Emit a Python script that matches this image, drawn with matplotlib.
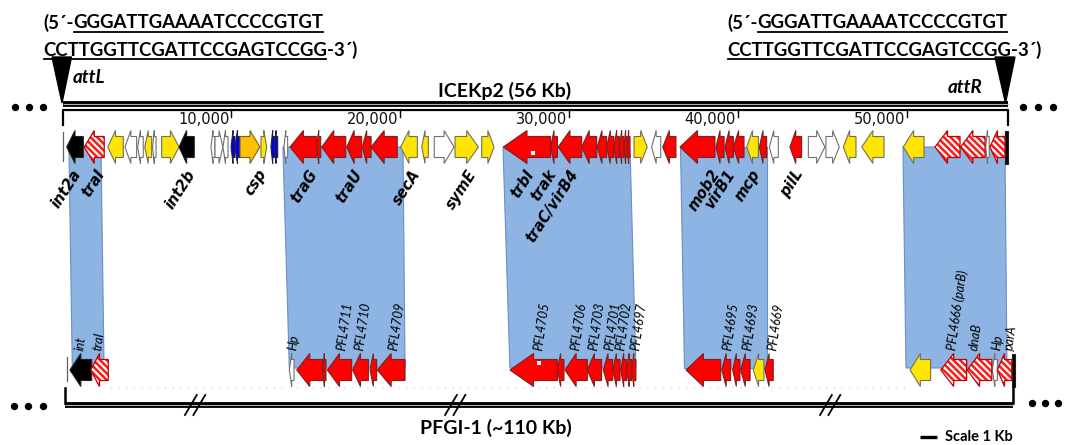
import matplotlib
matplotlib.use('Agg')
import matplotlib.pyplot as plt
from matplotlib.patches import Polygon

W, H = 1067, 445
X0 = 62.5          # pixel of position 0 kb
PPK = 16.89        # pixels per kb

def kb(px):
    return (px - X0) / PPK

# ---------------- DATA ----------------
# Top track (ICEKp2) genes: start/end (kb), strand, colour class
top_start = [0.25, 1.29, 2.68, 3.70, 4.45, 4.87, 5.33, 5.87, 6.90, 8.79, 9.03, 9.50, 9.98, 10.21,
             10.51, 11.75, 12.34, 12.55, 13.11, 13.47, 15.05, 15.35, 16.83, 17.75, 18.27, 20.02,
             21.27, 22.01, 23.24, 24.82, 26.10, 28.90, 29.35, 30.74, 31.66, 32.22, 32.65, 32.97,
             33.24, 33.44, 33.84, 34.88, 35.54, 36.56, 38.69, 39.22, 39.72, 40.51, 41.26, 41.85,
             43.07, 44.16, 45.20, 46.23, 47.32, 49.78, 51.66, 53.18, 54.66, 54.91, 55.80]
top_end = [1.23, 2.47, 3.60, 4.39, 4.78, 5.28, 5.54, 6.90, 7.80, 9.03, 9.50, 9.80, 10.21, 10.51,
           11.69, 12.09, 12.55, 12.74, 13.33, 15.05, 15.29, 16.77, 17.71, 18.27, 19.82, 21.01,
           21.66, 23.18, 24.62, 25.55, 28.90, 29.30, 30.74, 31.63, 32.22, 32.65, 32.97, 33.24,
           33.44, 33.60, 34.62, 35.42, 36.32, 38.63, 39.17, 39.72, 40.35, 41.20, 41.69, 42.38,
           43.76, 45.14, 45.99, 46.98, 48.64, 51.01, 53.14, 54.62, 54.87, 55.80, 55.98]
top_strand = [-1, -1, -1, -1, -1, -1, -1, 1, -1, -1, 1, -1, -1, -1,
              1, 1, -1, -1, -1, -1, -1, -1, -1, -1, -1, -1,
              -1, 1, 1, 1, -1, -1, -1, -1, -1, -1, -1, -1,
              -1, -1, 1, -1, -1, -1, -1, -1, -1, -1, -1, -1,
              -1, 1, 1, -1, -1, -1, -1, -1, -1, -1, 0]
top_kind = ['k', 'h', 'y', 'w', 'w', 'y', 'w', 'y', 'k', 'w', 'w', 'w', 'b', 'b',
            'o', 'y', 'b', 'b', 'w', 'r', 'r', 'r', 'r', 'r', 'r', 'y',
            'y', 'w', 'y', 'y', 'r', 'r', 'r', 'r', 'r', 'r', 'r', 'r',
            'r', 'r', 'y', 'w', 'r', 'r', 'r', 'r', 'r', 'y', 'r', 'w',
            'r', 'w', 'w', 'y', 'y', 'y', 'h', 'h', 'w', 'h', 'k']

# Bottom track (PFGI-1) genes
bot_start = [0.44, 1.67, 13.43, 13.87, 15.41, 15.68, 17.18, 18.21, 18.64, 26.49, 29.30, 29.75,
             31.07, 32.02, 32.58, 33.05, 33.40, 33.70, 36.92, 39.03, 39.68, 40.15, 40.90, 41.59,
             50.18, 52.00, 53.57, 55.05, 55.35, 56.20]
bot_end = [1.73, 2.71, 13.71, 15.41, 15.60, 17.12, 18.11, 18.60, 20.28, 29.30, 29.69, 31.07,
           31.92, 32.58, 33.01, 33.40, 33.70, 33.95, 38.97, 39.56, 40.11, 40.71, 41.53, 42.08,
           51.40, 53.53, 55.02, 55.35, 56.20, 56.39]
bot_strand = [-1] * 29 + [0]
bot_kind = ['k', 'h', 'w', 'r', 'r', 'r', 'r', 'r', 'r', 'r', 'r', 'r',
            'r', 'r', 'r', 'r', 'r', 'r', 'r', 'r', 'r', 'r', 'y', 'r',
            'y', 'h', 'h', 'w', 'h', 'k']

# Homology blocks: top start/end and bottom start/end (kb)
blk_top_start = [0.38, 13.05, 26.08, 36.56, 49.76]
blk_top_end = [2.28, 20.16, 33.60, 41.71, 55.80]
blk_bot_start = [0.58, 13.43, 26.49, 36.80, 49.94]
blk_bot_end = [2.46, 20.28, 33.95, 41.71, 55.92]

# Top gene labels (kb of label end)
top_labels = ['int2a', 'traI', 'int2b', 'csp', 'traG', 'traU', 'secA', 'symE', 'trbI', 'trak',
              'traC/virB4', 'mob2', 'virB1', 'mcp', 'pilL']
top_label_kb = [0.92, 2.32, 7.65, 11.87, 14.89, 17.55, 20.99, 24.31, 27.74, 29.04,
                30.34, 38.75, 39.64, 41.12, 43.67]

# Bottom gene labels (kb of label start)
bot_labels = ['int', 'traI', 'Hp', 'PFL4711', 'PFL4710', 'PFL4709', 'PFL4705', 'PFL4706',
              'PFL4703', 'PFL4701', 'PFL4702', 'PFL4697', 'PFL4695', 'PFL4693', 'PFL4669',
              'PFL4666 (parB)', 'dnaB', 'Hp', 'parA']
bot_label_kb = [1.04, 2.10, 13.59, 16.53, 17.58, 19.57, 28.15, 30.34, 31.41, 32.36, 33.01,
                33.90, 39.34, 40.53, 42.01, 52.66, 53.96, 55.27, 56.04]

tick_kb = [10, 20, 30, 40, 50]
tick_labels = ['10,000', '20,000', '30,000', '40,000', '50,000']

ice_len_kb = 56
break_kb = [7.85, 23.25, 45.45]   # "//" marks on PFGI-1 line

seq_top = ['GGGATTGAAAATCCCCGTGT', 'CCTTGGTTCGATTCCGAGTCCGG']

# ---------------- STYLE ----------------
fill = {'r': '#ff0000', 'y': '#ffe500', 'w': '#ffffff', 'k': '#000000', 'b': '#0000e0',
        'o': '#ffc000', 'h': '#ffffff'}
edge = {'r': '#7a2020', 'y': '#707060', 'w': '#707070', 'k': '#202020', 'b': '#202040',
        'o': '#806020', 'h': '#c00000'}
BLUE = '#8db4e2'
BLUE_EDGE = '#6a8fc4'

plt.rcParams['hatch.linewidth'] = 1.8

fig = plt.figure(figsize=(W / 100, H / 100), dpi=100)
ax = fig.add_axes([0, 0, 1, 1])
ax.set_xlim(kb(0), kb(W))
ax.set_ylim(H, 0)
ax.axis('off')

TOP_Y = 147
BOT_Y = 370
BODY = 10.5
HEAD = 16.5
MAXHEAD = 1.4


def arrow_verts(s, e, strand, cy):
    L = e - s
    h = min(0.5 * L, MAXHEAD)
    if strand == 0:
        return [(s, cy - HEAD), (e, cy - HEAD), (e, cy + HEAD), (s, cy + HEAD)]
    if strand < 0:
        return [(s, cy), (s + h, cy - HEAD), (s + h, cy - BODY), (e, cy - BODY),
                (e, cy + BODY), (s + h, cy + BODY), (s + h, cy + HEAD)]
    return [(e, cy), (e - h, cy - HEAD), (e - h, cy - BODY), (s, cy - BODY),
            (s, cy + BODY), (e - h, cy + BODY), (e - h, cy + HEAD)]


def draw_track(starts, ends, strands, kinds, cy):
    for s, e, st, kd in zip(starts, ends, strands, kinds):
        v = arrow_verts(s, e, st, cy)
        if kd == 'h':
            ax.add_patch(Polygon(v, closed=True, facecolor='white', edgecolor='#ff1a1a',
                                 hatch='\\\\\\\\\\', lw=0, zorder=3))
            ax.add_patch(Polygon(v, closed=True, fill=False, edgecolor=edge[kd], lw=0.9, zorder=4))
        else:
            ax.add_patch(Polygon(v, closed=True, facecolor=fill[kd], edgecolor=edge[kd],
                                 lw=0.8, zorder=3))


# homology blocks
for ts, te, bs, be in zip(blk_top_start, blk_top_end, blk_bot_start, blk_bot_end):
    ax.add_patch(Polygon([(ts, TOP_Y), (te, TOP_Y), (be, BOT_Y - 2), (bs, BOT_Y - 2)], closed=True,
                         facecolor=BLUE, edgecolor=BLUE_EDGE, lw=0.8, zorder=1))

# faint dotted baseline of bottom track
ax.plot([kb(110), kb(905)], [387, 387], ls=(0, (1, 6)), color='#c8c8c8', lw=0.8, zorder=0.5)

# start marks
ax.plot([0, 0], [132, 161], color='#606060', lw=0.9, zorder=3)
ax.plot([kb(67.3), kb(67.3)], [357, 381], color='#606060', lw=0.9, zorder=3)

draw_track(top_start, top_end, top_strand, top_kind, TOP_Y)
draw_track(bot_start, bot_end, bot_strand, bot_kind, BOT_Y)

# white dots on trbI / PFL4705
ax.scatter([kb(533), kb(539)], [153, 363], s=5, marker='s', color='white', zorder=5, lw=0)

# ---- top ruler ----
ax.plot([0, ice_len_kb], [104, 104], color='black', lw=4.2, solid_capstyle='butt', zorder=2)
ax.plot([0, ice_len_kb], [104, 104], color='#b0b0b0', lw=0.8, solid_capstyle='butt', zorder=2)
ax.plot([0, 0, ice_len_kb, ice_len_kb], [125, 110, 110, 125], color='black', lw=1.6, zorder=2)
for t, lab in zip(tick_kb, tick_labels):
    ax.plot([t, t], [110, 117], color='black', lw=1.0)
    ax.text(t - kb(64.5), 120, lab, ha='right', va='center', fontsize=10.5,
            family='DejaVu Sans', color='#111111')

ax.text(kb(571), 91, 'ICEKp2 (56 Kb)', ha='right', va='center', fontsize=14,
        family='Lato', fontweight='bold')

# ---- bottom ruler ----
bl, br = kb(65), kb(1013)
ax.plot([bl, br], [405, 405], color='black', lw=4.2, solid_capstyle='butt', zorder=2)
ax.plot([bl, br], [405, 405], color='#b0b0b0', lw=0.8, solid_capstyle='butt', zorder=2)
ax.plot([bl, bl], [388, 403], color='black', lw=1.8)
ax.plot([br, br], [388, 403], color='black', lw=1.8)
for b in break_kb:
    for d in (-0.25, 0.25):
        ax.plot([b + d - 0.35, b + d + 0.35], [415, 395], color='black', lw=1.3)

ax.text(kb(572), 428, 'PFGI-1 (~110 Kb)', ha='right', va='center', fontsize=14,
        family='Lato', fontweight='bold')

# ellipses
for xs, y in (([15, 29, 43], 107), ([1023, 1038, 1053], 107), ([14, 28, 43], 406),
              ([1032, 1045, 1058], 403)):
    ax.plot([kb(x) for x in xs], [y] * 3, 'o', color='black', ms=4.3, zorder=5)

# att triangles
ax.add_patch(Polygon([(kb(52), 57), (kb(71.5), 57), (kb(62), 103)], closed=True,
                     facecolor='black', edgecolor='black', zorder=6))
ax.add_patch(Polygon([(kb(995), 57), (kb(1015), 57), (kb(1005.5), 103)], closed=True,
                     facecolor='black', edgecolor='black', zorder=6))
ax.text(kb(73), 83, 'attL', fontsize=13.5, family='Lato', fontweight='bold', style='italic',
        va='baseline')
ax.text(kb(948), 93, 'attR', fontsize=13.5, family='Lato', fontweight='bold', style='italic',
        va='baseline')

# sequences with underline
fig.canvas.draw()
rend = fig.canvas.get_renderer()
inv = ax.transData.inverted()


def seq_line(x_px, y_base, parts, size=13.4):
    x = kb(x_px)
    for txt, ul in parts:
        t = ax.text(x, y_base, txt, fontsize=size, family='Lato', fontweight='bold',
                    ha='left', va='baseline')
        bb = t.get_window_extent(renderer=rend)
        (x0d, _), (x1d, _) = inv.transform([[bb.x0, bb.y0], [bb.x1, bb.y0]])
        if ul:
            ax.plot([x0d + 0.05, x1d - 0.05], [y_base + 3.5, y_base + 3.5], color='black', lw=1.3)
        x = x1d


for xp in (43, 727):
    seq_line(xp, 28.5, [('(5\u00b4-', False), (seq_top[0], True)])
    seq_line(xp, 55.5, [(seq_top[1], True), ('-3\u00b4)', False)])

# gene labels
for lab, x in zip(top_labels, top_label_kb):
    ax.text(x, 171, lab, rotation=57, rotation_mode='anchor', ha='right', va='center',
            fontsize=10.5, family='DejaVu Sans', fontweight='bold', style='italic', zorder=7)

for lab, x in zip(bot_labels, bot_label_kb):
    ax.text(x, 350, lab, rotation=82, rotation_mode='anchor', ha='left', va='center',
            fontsize=9, family='Lato', style='italic', zorder=7)

# scale bar
ax.plot([kb(920), kb(937)], [437, 437], color='black', lw=2.4, solid_capstyle='butt')
ax.text(kb(945), 437, 'Scale 1 Kb', ha='left', va='center', fontsize=10.5, family='Lato',
        fontweight='bold')

fig.savefig('out.png', dpi=100)
